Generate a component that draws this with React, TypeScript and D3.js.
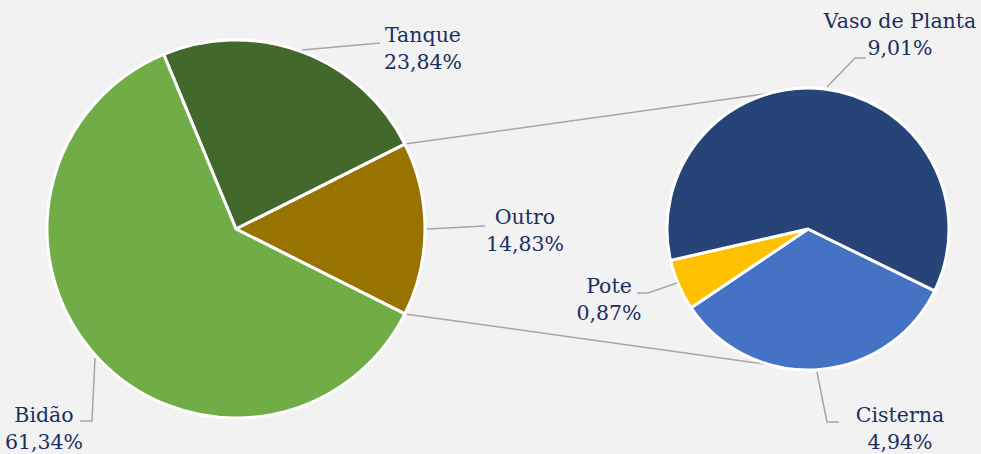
import React from "react";
import * as d3 from "d3";

const mainCategories = ["Tanque", "Outro", "Bidão"];
const mainValues = [23.84, 14.83, 61.34];
const mainColors = ["#43682b", "#997300", "#70ad47"];

const subCategories = ["Cisterna", "Pote", "Vaso de Planta"];
const subValues = [4.94, 0.87, 9.01];
const subColors = ["#4472c4", "#ffc000", "#264478"];

const W = 981;
const H = 454;
const deg = Math.PI / 180;

const mainC = { x: 236, y: 229, r: 189 };
const subC = { x: 808, y: 229, r: 141 };

const labelLayout: Record<string, { x: number; y: number; leader: [number, number][] }> = {
  Tanque: { x: 423, y: 42, leader: [[302, 50], [380, 43]] },
  Outro: { x: 525, y: 224, leader: [[427, 229], [485, 226]] },
  "Bidão": { x: 44, y: 422, leader: [[95, 358], [92, 421], [80, 421]] },
  "Vaso de Planta": { x: 900, y: 28, leader: [[827, 87], [855, 58], [866, 58]] },
  Pote: { x: 609, y: 293, leader: [[677, 283], [648, 293], [637, 293]] },
  Cisterna: { x: 900, y: 422, leader: [[817, 372], [827, 422], [839, 422]] },
};

const fmt = (v: number) => v.toFixed(2).replace(".", ",") + "%";

export default function App() {
  const total = d3.sum(mainValues);
  const outroIdx = 1;
  const frac = mainValues.map((v) => v / total);
  const mainStart = Math.PI / 2 - frac[outroIdx] * Math.PI - frac[0] * 2 * Math.PI;
  const mainPie = d3
    .pie<number>()
    .sort(null)
    .startAngle(mainStart)
    .endAngle(mainStart + 2 * Math.PI)(mainValues);
  const subStart = 116 * deg;
  const subPie = d3
    .pie<number>()
    .sort(null)
    .startAngle(subStart)
    .endAngle(subStart + 2 * Math.PI)(subValues);

  const mainArc = d3.arc<d3.PieArcDatum<number>>().innerRadius(0).outerRadius(mainC.r);
  const subArc = d3.arc<d3.PieArcDatum<number>>().innerRadius(0).outerRadius(subC.r);

  const outro = mainPie[outroIdx];
  const pt = (c: { x: number; y: number }, r: number, a: number) => [c.x + r * Math.sin(a), c.y - r * Math.cos(a)];
  const p1 = pt(mainC, mainC.r, outro.startAngle);
  const p2 = pt(mainC, mainC.r, outro.endAngle);
  const q1 = pt(subC, subC.r, -15.3 * deg);
  const q2 = pt(subC, subC.r, 195.3 * deg);

  const labels = [
    ...mainCategories.map((c, i) => ({ name: c, value: mainValues[i] })),
    ...subCategories.map((c, i) => ({ name: c, value: subValues[i] })),
  ];

  const font = "'DejaVu Serif', Georgia, serif";

  return (
    <svg width={W} height={H} style={{ position: "absolute", left: 0, top: 0, background: "#f2f2f2" }}>
      <rect width={W} height={H} fill="#f2f2f2" />
      <line x1={p1[0]} y1={p1[1]} x2={q1[0]} y2={q1[1]} stroke="#a6a6a6" strokeWidth={1.5} />
      <line x1={p2[0]} y1={p2[1]} x2={q2[0]} y2={q2[1]} stroke="#a6a6a6" strokeWidth={1.5} />
      <g transform={`translate(${mainC.x},${mainC.y})`}>
        {mainPie.map((d, i) => (
          <path key={i} d={mainArc(d) || ""} fill={mainColors[i]} stroke="#ffffff" strokeWidth={3} strokeLinejoin="round" />
        ))}
      </g>
      <g transform={`translate(${subC.x},${subC.y})`}>
        {subPie.map((d, i) => (
          <path key={i} d={subArc(d) || ""} fill={subColors[i]} stroke="#ffffff" strokeWidth={3} strokeLinejoin="round" />
        ))}
      </g>
      {labels.map((l) => {
        const lay = labelLayout[l.name];
        return (
          <g key={l.name}>
            <polyline
              points={lay.leader.map((p) => p.join(",")).join(" ")}
              fill="none"
              stroke="#a6a6a6"
              strokeWidth={1.5}
            />
            <text x={lay.x} y={lay.y} textAnchor="middle" fontFamily={font} fontSize={20.5} fill="#1b2f5e">
              {l.name}
            </text>
            <text x={lay.x} y={lay.y + 27} textAnchor="middle" fontFamily={font} fontSize={20.5} fill="#1b2f5e">
              {fmt(l.value)}
            </text>
          </g>
        );
      })}
    </svg>
  );
}
